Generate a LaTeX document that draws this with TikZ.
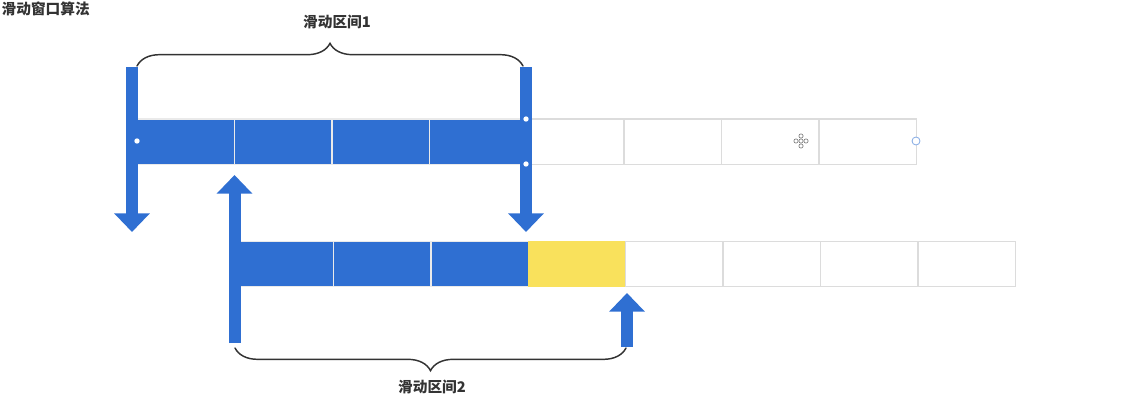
\documentclass[tikz,border=0pt]{standalone}
\usepackage{fontspec}
\setmainfont{Noto Sans CJK SC}
\usetikzlibrary{arrows.meta,positioning,calc,decorations.pathreplacing}
\definecolor{winblue}{HTML}{2F6FD2}
\definecolor{newcell}{HTML}{F9E15C}
\definecolor{gridline}{HTML}{DCDCDC}
\definecolor{textgray}{HTML}{333333}
\tikzset{
  cell/.style={draw=gridline,line width=1pt,minimum width=73pt,minimum height=34pt,inner sep=0pt},
  blockarrow/.style={winblue,line width=9pt,-{Triangle[width=26pt,length=14pt]}},
  bracket/.style={textgray,line width=1.1pt,line cap=round,decorate,decoration={brace,amplitude=17pt}},
  label/.style={textgray,font=\fontsize{11}{13}\selectfont\bfseries}
}

\begin{document}
\begin{tikzpicture}[x=0.75pt,y=-0.75pt]
\useasboundingbox (0,0) rectangle (1128,407);
\node[label,anchor=west] (title) at (-3,9) {滑动窗口算法};
% first window
\foreach \i in {1,...,4} \node[cell,fill=winblue,draw=gridline!60] (a\i) at (88.3+97.4*\i,141.5) {};
\foreach \i in {5,...,8} \node[cell,fill=white] (a\i) at (88.3+97.4*\i,141.5) {};
% second window
\foreach \i in {1,...,3} \node[cell,fill=winblue,draw=gridline!60] (b\i) at (187.3+97.4*\i,264) {};
\node[cell,fill=newcell,draw=newcell] (b4) at (187.3+97.4*4,264) {};
\foreach \i in {5,...,8} \node[cell,fill=white] (b\i) at (187.3+97.4*\i,264) {};
% pointers
\coordinate (p1) at (132,67);   \coordinate (q1) at (132,232);
\coordinate (p2) at (526,67);   \coordinate (q2) at (526,232);
\coordinate (p3) at (234.5,343); \coordinate (q3) at (234.5,175);
\coordinate (p4) at (627,347);  \coordinate (q4) at (627,293);
\draw[blockarrow] (p1)--(q1);
\draw[blockarrow] (p2)--(q2);
\draw[blockarrow] (p3)--(q3);
\draw[blockarrow] (p4)--(q4);
% handles
\fill[white] (137,141) circle (2pt) (526,119) circle (2pt) (526,164) circle (2pt);
\draw[winblue!60,line width=.6pt,fill=white] (916,141) circle (3pt);
\foreach \dx/\dy in {-5/0,5/0,0/-5,0/5,0/0} \draw[gray,line width=.5pt,fill=white] (801+\dx,141+\dy) circle (1.6pt);
% brackets
\coordinate (s1) at (137,66);  \coordinate (e1) at (523,66);
\coordinate (s2) at (235,348); \coordinate (e2) at (626,348);
\draw[bracket] (s1)--(e1);
\draw[bracket,decoration={mirror}] (s2)--(e2);
\node[label] (win1) at (337,22) {滑动区间1};
\node[label] (win2) at (432,387) {滑动区间2};
\end{tikzpicture}
\end{document}
